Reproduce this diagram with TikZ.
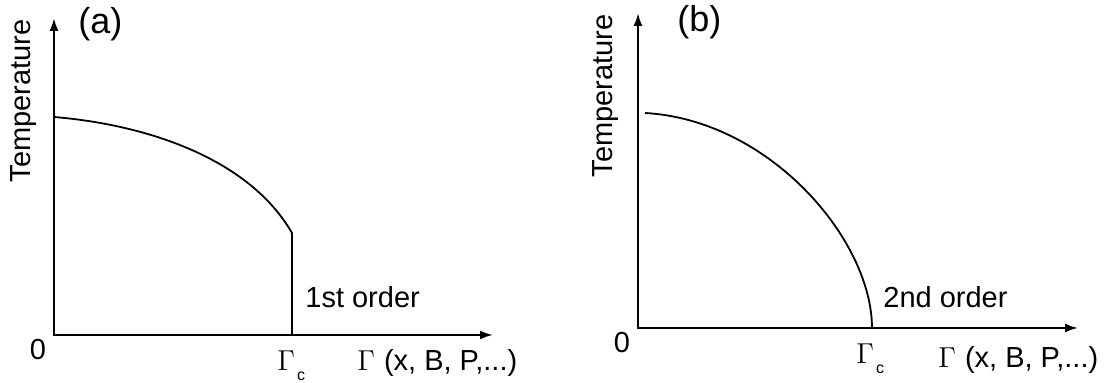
\documentclass[tikz,border=0pt]{standalone}
\usepackage{fontspec}
\setmainfont{Liberation Sans}
\usetikzlibrary{arrows.meta,positioning}
\newcommand{\gsym}{{\fontsize{14}{14}\selectfont$\Gamma$}}
\newcommand{\gcrit}{\gsym\hspace{1pt}\raisebox{-5pt}{\fontsize{8}{8}\selectfont c}}

\begin{document}
\begin{tikzpicture}[x=0.5pt,y=-0.5pt,
  axis/.style={{Latex[length=6.5pt,width=4.5pt]}-{Latex[length=6.5pt,width=4.5pt]},line width=1.1pt},
  curve/.style={line width=0.9pt},
  lbl/.style={font=\fontsize{14.5}{16}\selectfont,inner sep=0pt},
  tag/.style={font=\fontsize{18}{20}\selectfont,inner sep=0pt}]
\useasboundingbox (0,0) rectangle (1116,383);
% (a) first order
\coordinate (o1) at (54,335);
\coordinate (ytip1) at (54,18);
\coordinate (xtip1) at (493,335);
\coordinate (tz1) at (54,117);
\coordinate (jump1) at (292,233);
\coordinate (tc1) at (292,335);
\draw[axis] (ytip1) |- (xtip1);
\draw[curve] (tz1) .. controls (150,125) and (250,160) .. (jump1) -- (tc1);
\node[tag,anchor=base west] (tagA) at (78,34) {(a)};
\node[lbl,rotate=90,anchor=base] (ylab1) at (31,101) {Temperature};
\node[lbl,anchor=base] (zero1) at (38,360) {0};
\node[lbl,anchor=base west] (ord1) at (305,308) {1st order};
\node[lbl,anchor=base west] (gc1) at (277,371) {\gcrit};
\node[lbl,anchor=base west] (par1) at (357,371) {\gsym\hspace{4.5pt}(x, B, P,...)};
% (b) second order
\coordinate (o2) at (638,328);
\coordinate (ytip2) at (638,13);
\coordinate (xtip2) at (1078,328);
\coordinate (tz2) at (645,113);
\coordinate (tc2) at (872,328);
\draw[axis] (ytip2) |- (xtip2);
\draw[curve] (tz2) .. controls (770,120) and (872,240) .. (tc2);
\node[tag,anchor=base west] (tagB) at (677,32) {(b)};
\node[lbl,rotate=90,anchor=base] (ylab2) at (612,96) {Temperature};
\node[lbl,anchor=base] (zero2) at (622,353) {0};
\node[lbl,anchor=base west] (ord2) at (883,308) {2nd order};
\node[lbl,anchor=base west] (gc2) at (856,364) {\gcrit};
\node[lbl,anchor=base west] (par2) at (938,368) {\gsym\hspace{4.5pt}(x, B, P,...)};
\end{tikzpicture}
\end{document}
